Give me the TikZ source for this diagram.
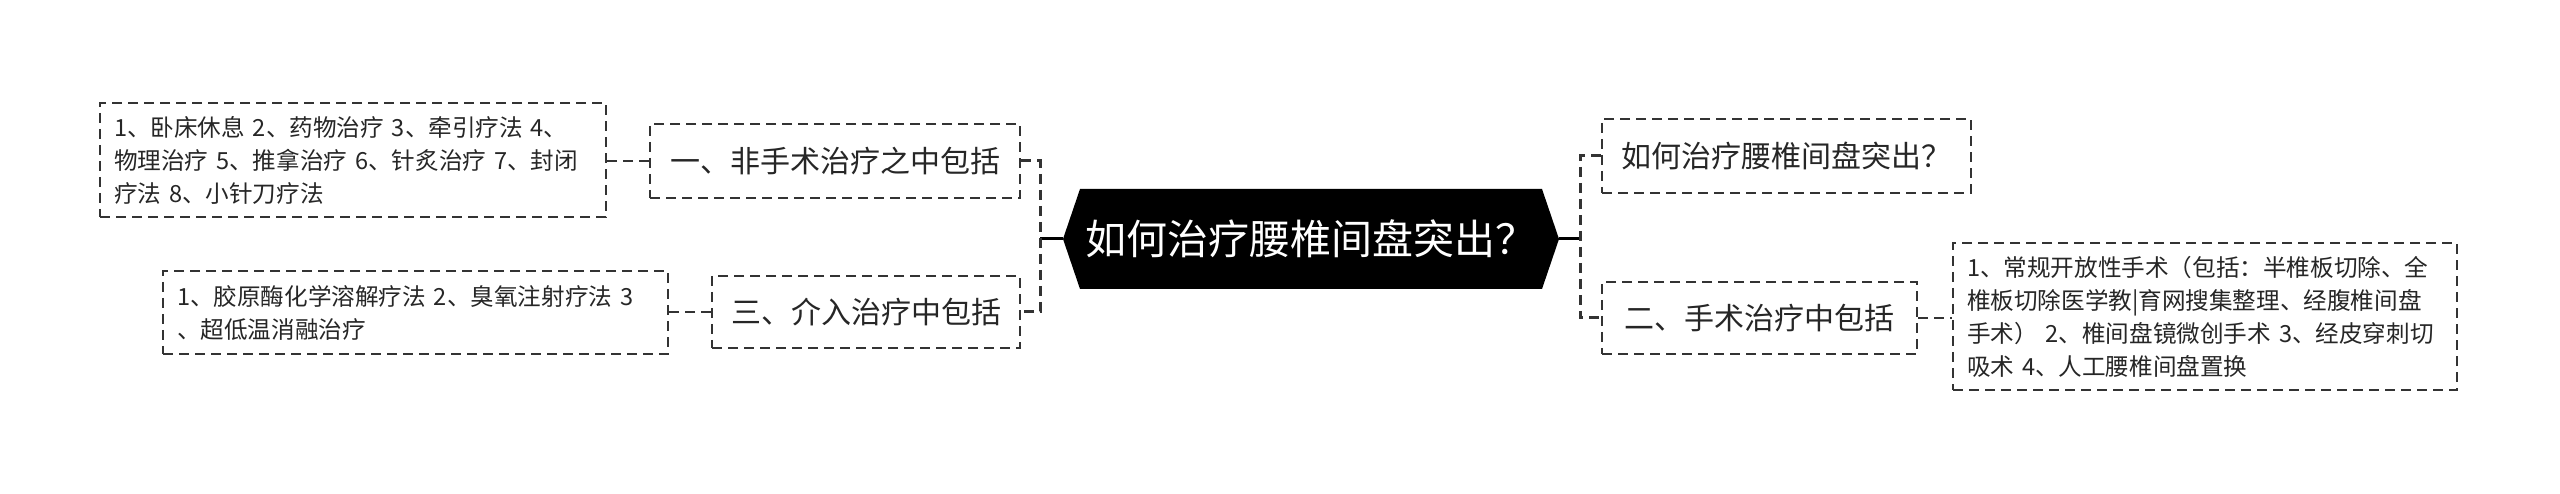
\documentclass[tikz,border=0pt]{standalone}
\usepackage{fontspec}
\setmainfont{Noto Sans CJK SC}
\definecolor{ink}{HTML}{262626}
\definecolor{edge}{HTML}{333333}
\tikzset{
  box/.style={draw=edge, line width=2pt, dash pattern=on 10pt off 6pt, inner sep=0pt, text=ink},
  catbox/.style={box, font=\fontsize{30}{36}\selectfont},
  leafbox/.style={box, font=\fontsize{23.6}{33}\selectfont, align=left, inner xsep=14pt},
  trunk/.style={draw=edge, line width=3pt, dash pattern=on 10pt off 6pt},
  link/.style={draw=edge, line width=2pt, dash pattern=on 10pt off 6pt},
  stem/.style={draw=black, line width=3pt},
}
\begin{document}
\begin{tikzpicture}[x=1pt,y=-1pt]
\useasboundingbox (0,0) rectangle (2560,494);
% root hexagon
\coordinate (rc) at (1311,239);
\fill[black] ([xshift=-248pt]rc) -- ([xshift=-231pt,yshift=50pt]rc) -- ([xshift=231pt,yshift=50pt]rc)
  -- ([xshift=248pt]rc) -- ([xshift=231pt,yshift=-50pt]rc) -- ([xshift=-231pt,yshift=-50pt]rc) -- cycle;
\node[inner sep=0pt, minimum width=496pt, minimum height=100pt, text=white,
      font=\fontsize{41}{48}\selectfont] (root) at (rc) {如何治疗腰椎间盘突出？};
% left categories
\node[catbox, minimum width=370pt, minimum height=74pt] (c1) at (835,161) {一、非手术治疗之中包括};
\node[catbox, minimum width=308pt, minimum height=72pt] (c3) at (866,312) {三、介入治疗中包括};
% left leaves
\node[leafbox, text width=478pt, minimum height=114pt] (l1) at (353,160)
  {\mbox{1、卧床休息 2、药物治疗 3、牵引疗法 4、}\\\mbox{物理治疗 5、推拿治疗 6、针炙治疗 7、封闭}\\\mbox{疗法 8、小针刀疗法}};
\node[leafbox, text width=477pt, minimum height=83pt] (l3) at (415.5,312.5)
  {\mbox{1、胶原酶化学溶解疗法 2、臭氧注射疗法 3}\\\mbox{、超低温消融治疗}};
% right categories
\node[catbox, minimum width=369pt, minimum height=74pt] (r1) at (1786.5,156) {如何治疗腰椎间盘突出？};
\node[catbox, minimum width=315pt, minimum height=72pt] (c2) at (1759.5,318) {二、手术治疗中包括};
\node[leafbox, text width=476pt, minimum height=147pt] (l2) at (2205,316.5)
  {\mbox{1、常规开放性手术（包括：半椎板切除、全}\\\mbox{椎板切除医学教|育网搜集整理、经腹椎间盘}\\\mbox{手术） 2、椎间盘镜微创手术 3、经皮穿刺切}\\\mbox{吸术 4、人工腰椎间盘置换}};
% connectors
\coordinate (lt) at (1040,239);
\coordinate (rt) at (1580,239);
\draw[stem] (root.west) -- (lt);
\draw[stem] (root.east) -- (rt);
\draw[trunk] (c1.east) -- (c1.east -| lt) -- (c3.east -| lt) -- (c3.east);
\draw[trunk] (r1.west) -- (r1.west -| rt) -- (c2.west -| rt) -- (c2.west);
\draw[link] (c1.west) -- (l1.east |- c1.west);
\draw[link] (c3.west) -- (l3.east |- c3.west);
\draw[link] (c2.east) -- (l2.west |- c2.east);
\end{tikzpicture}
\end{document}
